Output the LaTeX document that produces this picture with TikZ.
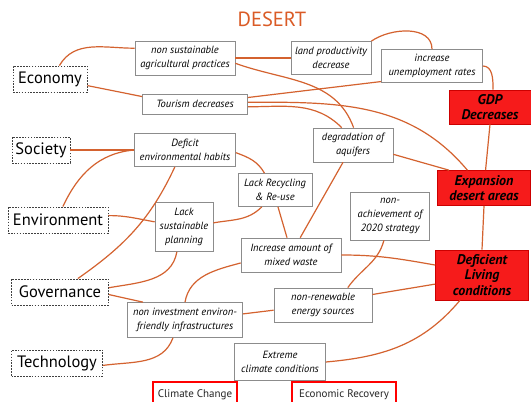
\documentclass[tikz,border=0pt]{standalone}
\usepackage{fontspec}
\setmainfont{PT Sans}
\definecolor{deserttitle}{HTML}{DA5B26}
\definecolor{linkorange}{HTML}{D4622F}
\definecolor{hotred}{HTML}{F61B1B}
\definecolor{boxgray}{HTML}{8C8C8C}
\tikzset{cat/.style={draw=black!75, dash pattern=on 1.6pt off 1.3pt, line width=.9pt, font=\fontsize{16.5}{18}\selectfont, inner sep=2pt}, box/.style={draw=boxgray, fill=white, line width=.7pt, align=center, font=\fontsize{10.5}{14}\selectfont\itshape, inner sep=1pt}, hot/.style={draw=red!80!black, fill=hotred, line width=.6pt, align=center, inner sep=1pt, font=\fontsize{14}{15.5}\selectfont\bfseries\itshape}, tag/.style={draw=red, line width=1.4pt, font=\fontsize{11}{12}\selectfont, text=black!85, inner sep=3pt}, link/.style={draw=linkorange, line width=1.2pt}, ttl/.style={text=deserttitle, font=\fontsize{20.5}{22}\selectfont}}

\begin{document}
\begin{tikzpicture}[x=1pt, y=-1pt]
\useasboundingbox (0,0) rectangle (531,402); \clip (0,0) rectangle (531,402);
\fill[white] (0,0) rectangle (531,402);
\node[ttl] (title) at (272,19) {DESERT};
\node[cat, minimum width=74, minimum height=26] (eco) at (50,79) {Economy};
\node[cat, minimum width=58, minimum height=26] (soc) at (41,150) {Society};
\node[cat, minimum width=100, minimum height=26] (env) at (58,220) {Environment};
\node[cat, minimum width=97, minimum height=26] (gov) at (60,292) {Governance};
\node[cat, minimum width=91, minimum height=26] (tech) at (57,363) {Technology};
\node[box, minimum width=100, minimum height=34] (nsa) at (185,58) {non sustainable\\agricultural practices};
\node[box, minimum width=80, minimum height=33] (land) at (331,58) {land productivity\\decrease};
\node[box, minimum width=101, minimum height=33] (unemp) at (432,66) {increase\\unemployment rates};
\node[box, minimum width=105, minimum height=20] (tour) at (195,104) {Tourism decreases};
\node[hot, minimum width=82, minimum height=34] (gdp) at (490,107) {GDP\\Decreases};
\node[box, minimum width=80, minimum height=34] (deg) at (353,145) {degradation of\\aquifers};
\node[box, minimum width=101, minimum height=33] (defh) at (185,150) {Deficit\\environmental habits};
\node[hot, minimum width=93, minimum height=35] (exp) at (484,188) {Expansion\\desert areas};
\node[box, minimum width=74, minimum height=33] (lrec) at (275,190) {Lack Recycling\\\& Re-use};
\node[box, minimum width=79, minimum height=48] (nach) at (390,216) {non-\\achievement of\\2020 strategy};
\node[box, minimum width=58, minimum height=49] (lsp) at (184,227) {Lack\\sustainable\\planning};
\node[box, minimum width=100, minimum height=34] (waste) at (291,255) {Increase amount of\\mixed waste};
\node[hot, minimum width=93, minimum height=50] (dlc) at (482,275) {Deficient\\Living\\conditions};
\node[box, minimum width=115, minimum height=35] (nif) at (185,320) {non investment environ-\\friendly infrastructures};
\node[box, minimum width=98, minimum height=34] (nren) at (323,305) {non-renewable\\energy sources};
\node[box, minimum width=91, minimum height=37] (ext) at (280,362) {Extreme\\climate conditions};
\node[tag, minimum width=84, minimum height=26] (cc) at (195,395) {Climate Change};
\node[tag, minimum width=104, minimum height=26] (er) at (344,395) {Economic Recovery};
\draw[link] (eco.55) to[out=60,in=180] (nsa.169); \draw[link] (eco.-10) -- (tour.172);
\draw[link] (nsa.east) -- (land.west); \draw[link] (nsa.-6) to[out=-20,in=110] (deg.88);
\draw[link] (land.north east) to[out=35,in=90] (unemp.north);
\draw[link] (tour.7) -- (unemp.197);
\draw[link] (tour.2) to[out=0,in=130] (exp.133);
\draw[link] (tour.-3) to[out=0,in=135] (deg.123);
\draw[link] (unemp.east) to[out=0,in=90] (gdp.80); \draw[link] (gdp.south) -- (exp.85);
\draw[link] (deg.-13) -- (exp.153); \draw[link] (exp.south) -- (dlc.north);
\draw[link] (soc.east) -- (defh.west);
\draw[link] (env.70) to[out=65,in=185] (defh.west);
\draw[link] (defh.-121) to[out=-115,in=35] (gov.37);
\draw[link] (defh.-3) to[out=-20,in=120] (lrec.122);
\draw[link] (env.5) to[out=0,in=170] (lsp.170);
\draw[link] (lsp.8) to[out=10,in=-135] (lrec.-128);
\draw[link] (lsp.-106) to[out=-100,in=10] (gov.5);
\draw[link] (lrec.-80) -- (waste.103); \draw[link] (deg.-120) -- (waste.62);
\draw[link] (gov.-3) -- (nif.157);
\draw[link] (nif.north) to[out=80,in=195] (waste.189);
\draw[link] (nif.6) -- (nren.186);
\draw[link] (waste.east) to[out=0,in=170] (dlc.168);
\draw[link] (nach.-104) to[out=-105,in=55] (nren.35);
\draw[link] (nren.12) -- (dlc.191);
\draw[link] (dlc.-131) to[out=-130,in=5] (ext.east);
\draw[link] (nif.-124) to[out=-110,in=8] (tech.-3);
\end{tikzpicture}
\end{document}
